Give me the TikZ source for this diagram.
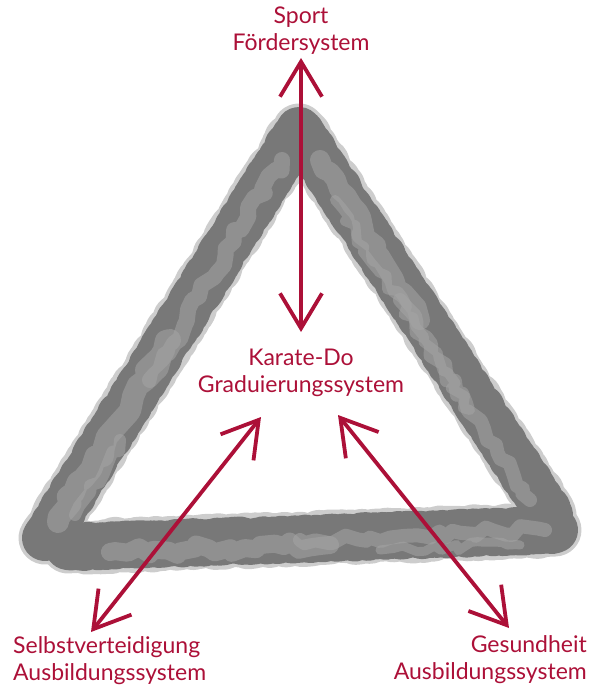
\documentclass[tikz,border=0pt]{standalone}
\usepackage{fontspec}
\setmainfont{Lato}
\usetikzlibrary{arrows.meta,decorations.pathmorphing}
\definecolor{kred}{RGB}{172,16,56}
\definecolor{gdark}{RGB}{120,120,120}
\definecolor{glight}{RGB}{165,165,165}
\definecolor{ghalo}{RGB}{205,205,205}
\begin{document}
\begin{tikzpicture}[x=1pt,y=-1pt,
  lbl/.style={text=kred,font=\fontsize{23}{27}\selectfont,inner sep=0pt},
  conn/.style={draw=kred,line width=3.8pt,{Straight Barb[length=35pt,width=42pt]}-{Straight Barb[length=35pt,width=42pt]}},
  halo/.style={draw=ghalo,line width=53pt,line cap=round,line join=round,decorate,decoration={random steps,segment length=4pt,amplitude=2pt}},
  brush/.style={draw=gdark,line width=46pt,line cap=round,line join=round,decorate,decoration={random steps,segment length=3pt,amplitude=1.5pt}},
  patch/.style={draw=glight,opacity=0.55,line cap=round,line join=round,decorate,decoration={random steps,segment length=9pt,amplitude=5pt}}]
\useasboundingbox (0,0) rectangle (590,687);
\pgfmathsetseed{11}
% triangle brush strokes
\path[halo] (45,538) -- (299,130) -- (550,515);
\path[halo] (68,547) -- (555,530);
\path[brush] (45,538) -- (299,130) -- (550,515);
\path[brush] (68,547) -- (555,530);
% texture patches
\path[patch,line width=22pt] (58,522) -- (170,340);
\path[patch,line width=16pt] (150,380) -- (282,160);
\path[patch,line width=12pt] (75,515) -- (120,440);
\path[patch,line width=20pt] (320,160) -- (420,320);
\path[patch,line width=14pt] (400,300) -- (530,500);
\path[patch,line width=10pt] (335,200) -- (470,410);
\path[patch,line width=18pt] (110,552) -- (330,545);
\path[patch,line width=14pt] (300,540) -- (545,530);
\path[patch,line width=9pt] (380,550) -- (520,545);
% labels
\node[lbl,align=center] (sport) at (301,31) {Sport\\Fördersystem};
\node[lbl,align=center] (karate) at (301,373) {Karate-Do\\Graduierungssystem};
\node[lbl,align=left,anchor=west] (selbst) at (13,661) {Selbstverteidigung\\Ausbildungssystem};
\node[lbl,align=right,anchor=east] (gesund) at (587,660) {Gesundheit\\Ausbildungssystem};
% arrow end points
\coordinate (s1) at (301,58);
\coordinate (k1) at (301,332);
\coordinate (k2) at (261,417);
\coordinate (k3) at (338,415);
\coordinate (b1) at (91,632);
\coordinate (b2) at (509,628);
\draw[conn] (s1) -- (k1);
\draw[conn] (b1) -- (k2);
\draw[conn] (k3) -- (b2);
\end{tikzpicture}
\end{document}
